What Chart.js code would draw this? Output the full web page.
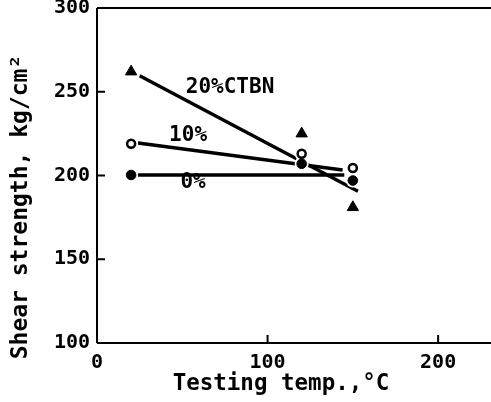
<!DOCTYPE html>
<html><head><meta charset="utf-8">
<script src="https://cdn.jsdelivr.net/npm/chart.js@4.4.0/dist/chart.umd.min.js"></script>
<style>html,body{margin:0;padding:0;background:#fff}#wrap{width:491px;height:402px}</style>
</head><body><div id="wrap"><canvas id="c" width="491" height="402"></canvas></div>
<script>
// Data
const temps = [20, 120, 150];
const ctbn20 = [262, 225, 181];
const ctbn10 = [219, 213, 204.5];
const ctbn0 = [200.3, 207, 197];
// fitted lines (start/end)
const fit20X = [25, 153], fit20Y = [259.6, 190.6];
const fit10X = [24, 144], fit10Y = [219.4, 203.3];
const fit0X = [24, 145], fit0Y = [200.3, 200.3];
const xTicks = [0, 100, 200];
const yTicks = [100, 150, 200, 250, 300];
const seriesLabels = ['20%CTBN', '10%', '0%'];
const labelAt = [[78, 252.8], [53.4, 223.6], [56.3, 195.5]];
const xTitle = 'Testing temp.,\u00B0C';
const yTitle = 'Shear strength, kg/cm\u00B2';

const pts = (xs, ys) => xs.map((x, i) => ({x, y: ys[i]}));
const MONO = "'DejaVu Sans Mono', monospace";

const lineDs = (xs, ys) => ({type:'line', data: pts(xs, ys), borderColor:'#000', borderWidth:3.4, pointRadius:0, fill:false, order:5});
const haloDs = (ys, r) => ({type:'scatter', data: pts(temps, ys), pointRadius:r, pointBackgroundColor:'#fff', pointBorderWidth:0, showLine:false, order:3});

const ticksPlugin = {
  id:'inwardTicks',
  afterDatasetsDraw(chart){
    const {ctx, chartArea:a, scales:{x, y}} = chart;
    ctx.save();
    ctx.strokeStyle = '#000';
    ctx.lineWidth = 2;
    ctx.beginPath();
    ctx.moveTo(a.left, a.top); ctx.lineTo(a.right, a.top);
    ctx.moveTo(a.left, a.top); ctx.lineTo(a.left, a.bottom);
    ctx.moveTo(a.left, a.bottom); ctx.lineTo(a.right, a.bottom);
    yTicks.forEach(v => { const py = y.getPixelForValue(v); if (v > y.min && v < y.max){ ctx.moveTo(a.left, py); ctx.lineTo(a.left + 8, py);} });
    xTicks.forEach(v => { const px = x.getPixelForValue(v); if (v > x.min && v < x.max){ ctx.moveTo(px, a.bottom); ctx.lineTo(px, a.bottom - 8);} });
    ctx.stroke();
    ctx.fillStyle = '#000';
    ctx.font = "bold 21px " + MONO;
    ctx.textAlign = 'center'; ctx.textBaseline = 'middle';
    seriesLabels.forEach((t, i) => {
      ctx.fillText(t, x.getPixelForValue(labelAt[i][0]), y.getPixelForValue(labelAt[i][1]));
    });
    // axis titles
    ctx.font = "bold 22.5px " + MONO;
    ctx.fillText(xTitle, 281, 384);
    ctx.translate(21, 207);
    ctx.rotate(-Math.PI / 2);
    ctx.font = "bold 23px " + MONO;
    ctx.fillText(yTitle, 0, 0);
    ctx.restore();
  }
};

new Chart(document.getElementById('c'), {
  type:'scatter',
  data:{ datasets:[
    lineDs(fit20X, fit20Y), lineDs(fit10X, fit10Y), lineDs(fit0X, fit0Y),
    haloDs(ctbn20, 8), haloDs(ctbn10, 7), haloDs(ctbn0, 7),
    {data: pts(temps, ctbn20), pointStyle:'triangle', pointRadius:6.5, pointBackgroundColor:'#000', pointBorderColor:'#000', pointBorderWidth:1, order:1},
    {data: pts(temps, ctbn10), pointStyle:'circle', pointRadius:4, pointBackgroundColor:'#fff', pointBorderColor:'#000', pointBorderWidth:2.5, order:1},
    {data: pts(temps, ctbn0), pointStyle:'circle', pointRadius:4.8, pointBackgroundColor:'#000', pointBorderColor:'#000', pointBorderWidth:1, order:1}
  ]},
  options:{
    responsive:false, animation:false, maintainAspectRatio:false,
    layout:{autoPadding:false, padding:{top:8, right:0, left:0, bottom:0}},
    plugins:{legend:{display:false}, tooltip:{enabled:false}},
    scales:{
      x:{type:'linear', min:0, max:231,
        afterBuildTicks(s){ s.ticks = xTicks.map(v => ({value:v})); },
        afterFit(s){ s.height = 59; s.paddingLeft = 0; s.paddingRight = 0; },
        grid:{display:false, drawTicks:false}, border:{display:false},
        ticks:{color:'#000', padding:8, font:{family:MONO, size:20, weight:'bold'}}
      },
      y:{type:'linear', min:100, max:300,
        afterBuildTicks(s){ s.ticks = yTicks.map(v => ({value:v})); },
        afterFit(s){ s.width = 97; s.paddingTop = 0; s.paddingBottom = 0; },
        grid:{display:false, drawTicks:false}, border:{display:false},
        ticks:{color:'#000', padding:7, font:{family:MONO, size:20, weight:'bold'}}
      }
    }
  },
  plugins:[ticksPlugin]
});
</script></body></html>
